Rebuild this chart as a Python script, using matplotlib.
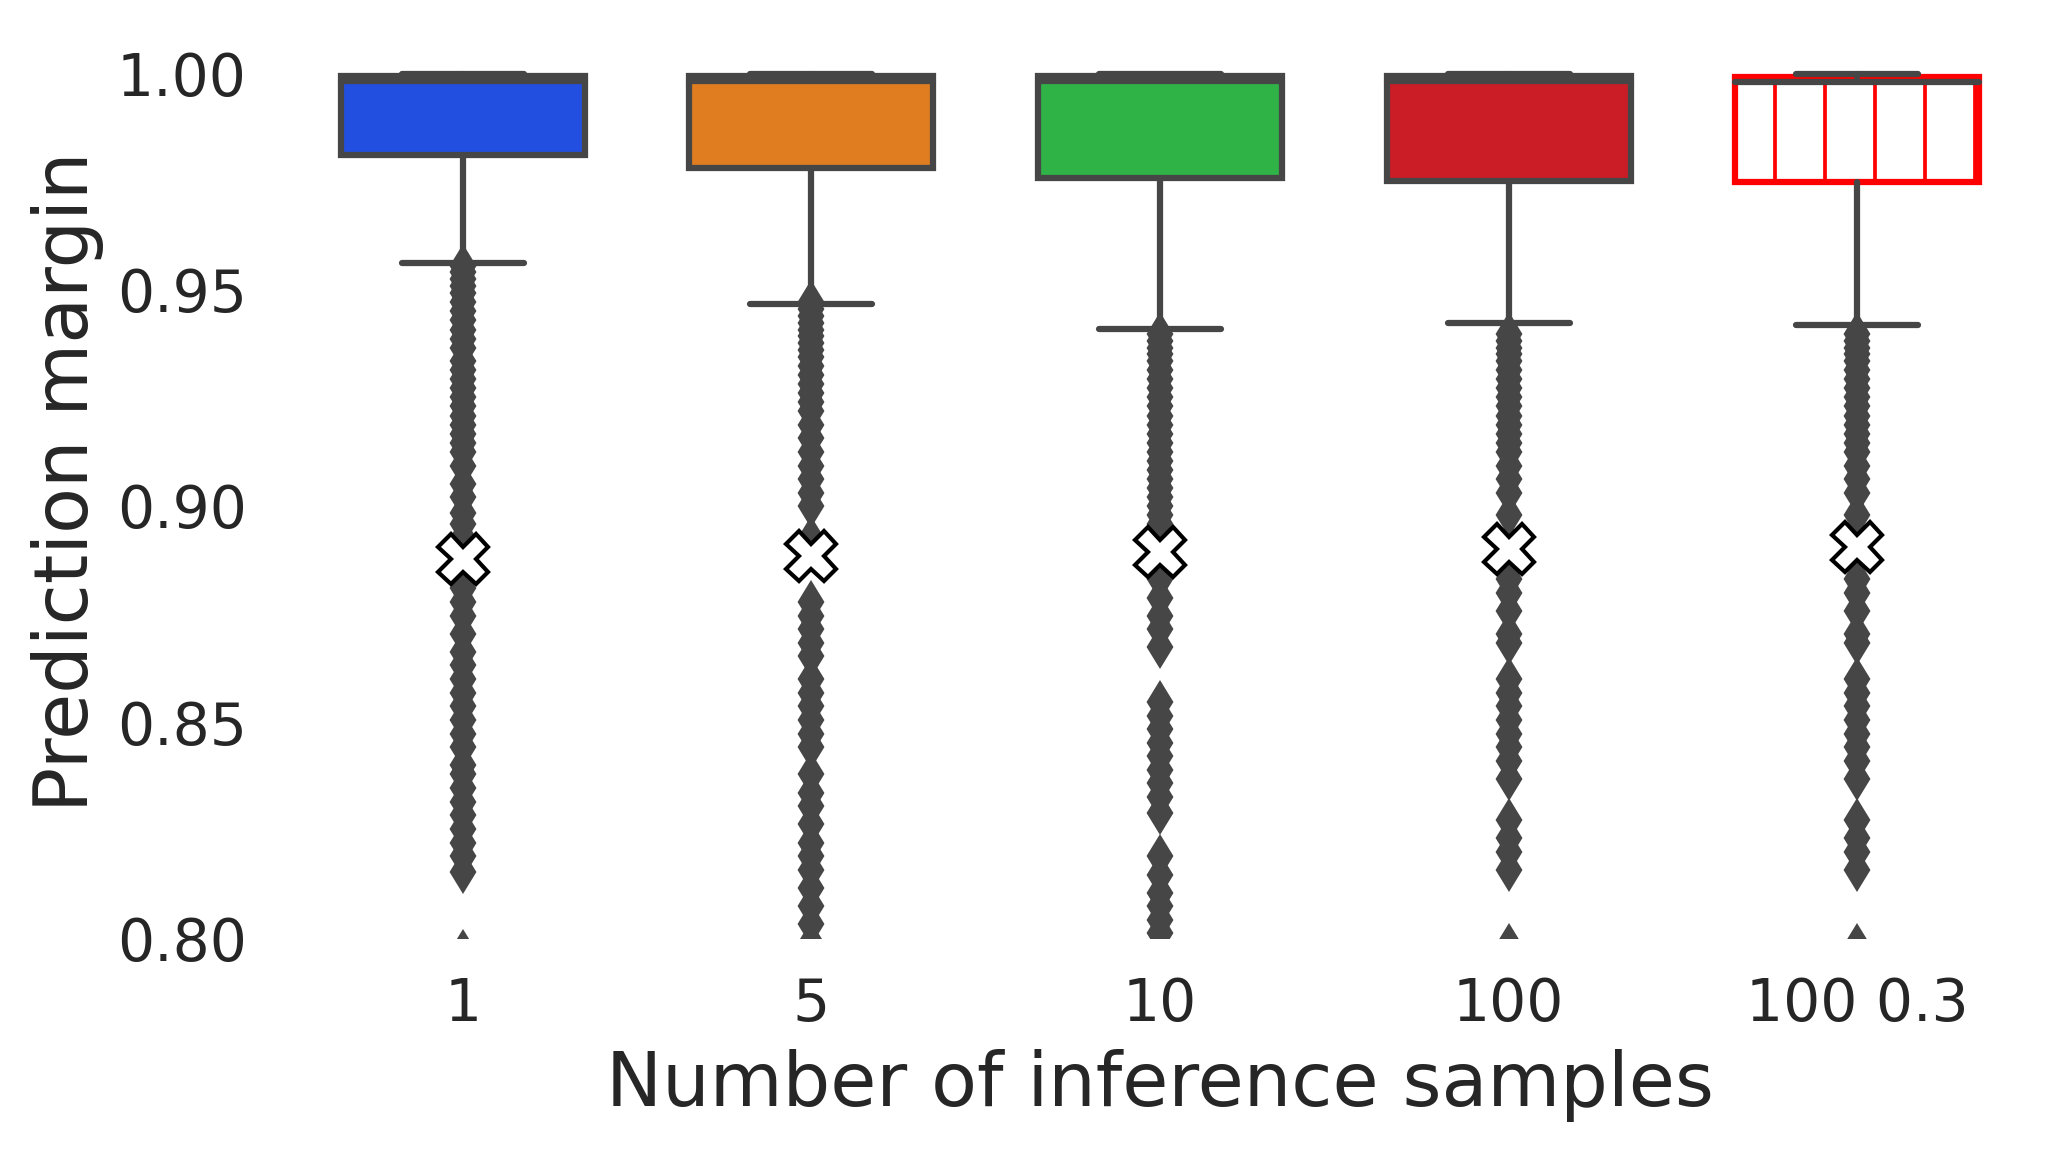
import numpy as np
import matplotlib
matplotlib.use('Agg')
import matplotlib.pyplot as plt
import seaborn as sns

sns.set_style("white")
plt.rcParams['font.family'] = ['DejaVu Sans']
plt.rcParams['hatch.color'] = 'red'
plt.rcParams['hatch.linewidth'] = 0.9

# data
labels = ['1', '5', '10', '100', '100 0.3']
q1 = [0.9812, 0.9782, 0.9758, 0.9752, 0.9750]
q3 = [0.9994, 0.9994, 0.9994, 0.9994, 0.9993]
med = [0.9984, 0.9984, 0.9984, 0.9984, 0.9980]
whislo = [0.9561, 0.9468, 0.9410, 0.9422, 0.9418]
whishi = [1.0, 1.0, 1.0, 1.0, 1.0]
means = [0.8878, 0.8884, 0.8894, 0.8900, 0.8906]

fliers_1 = [0.9555, 0.9540, 0.9524, 0.9508, 0.9492, 0.9471, 0.9450, 0.9429,
            0.9408, 0.9387, 0.9366, 0.9335, 0.9314, 0.9293, 0.9272, 0.9251,
            0.9230, 0.9209, 0.9188, 0.9167, 0.9146, 0.9125, 0.9093, 0.9051,
            0.9020, 0.8983, 0.8957, 0.8925, 0.8894, 0.8851, 0.8809, 0.8778,
            0.8746, 0.8704, 0.8662, 0.8631, 0.8599, 0.8568, 0.8536, 0.8505,
            0.8473, 0.8442, 0.8400, 0.8379, 0.8347, 0.8316, 0.8284, 0.8253,
            0.8221, 0.8189, 0.8153, 0.7970]
fliers_5 = [0.9471, 0.9456, 0.9440, 0.9424, 0.9408, 0.9393, 0.9377, 0.9361,
            0.9345, 0.9324, 0.9303, 0.9282, 0.9261, 0.9240, 0.9219, 0.9188,
            0.9156, 0.9125, 0.9093, 0.9062, 0.9030, 0.8999, 0.8925, 0.8778,
            0.8746, 0.8715, 0.8683, 0.8652, 0.8599, 0.8568, 0.8536, 0.8505,
            0.8473, 0.8442, 0.8379, 0.8337, 0.8305, 0.8263, 0.8221, 0.8189,
            0.8158, 0.8116, 0.8074, 0.8032, 0.7990]
fliers_10 = [0.9398, 0.9382, 0.9366, 0.9351, 0.9335, 0.9314, 0.9293, 0.9272,
             0.9251, 0.9230, 0.9209, 0.9188, 0.9167, 0.9146, 0.9125, 0.9104,
             0.9083, 0.9062, 0.9041, 0.9020, 0.8999, 0.8978, 0.8957, 0.8925,
             0.8830, 0.8788, 0.8746, 0.8715, 0.8673, 0.8547, 0.8515, 0.8484,
             0.8452, 0.8421, 0.8389, 0.8358, 0.8326, 0.8289, 0.8190, 0.8147,
             0.8105, 0.8074, 0.8042, 0.8011]
fliers_100 = [0.9398, 0.9382, 0.9366, 0.9351, 0.9335, 0.9314, 0.9293, 0.9272,
              0.9251, 0.9230, 0.9209, 0.9188, 0.9167, 0.9146, 0.9125, 0.9093,
              0.9062, 0.9030, 0.8978, 0.8914, 0.8830, 0.8799, 0.8757, 0.8704,
              0.8683, 0.8599, 0.8568, 0.8536, 0.8505, 0.8473, 0.8442, 0.8410,
              0.8368, 0.8274, 0.8232, 0.8200, 0.8158, 0.7985]
fliers_100_03 = [0.9398, 0.9382, 0.9366, 0.9351, 0.9335, 0.9314, 0.9293, 0.9272,
                 0.9251, 0.9230, 0.9209, 0.9188, 0.9167, 0.9146, 0.9125, 0.9093,
                 0.9062, 0.9030, 0.8978, 0.8914, 0.8830, 0.8799, 0.8757, 0.8704,
                 0.8683, 0.8599, 0.8568, 0.8536, 0.8505, 0.8473, 0.8442, 0.8410,
                 0.8368, 0.8274, 0.8232, 0.8200, 0.8158, 0.7985]
fliers = [fliers_1, fliers_5, fliers_10, fliers_100, fliers_100_03]

gray = '#464646'
pal = [sns.desaturate(c, 0.75) for c in sns.color_palette('bright')[:4]]

stats = []
for i in range(len(labels)):
    stats.append(dict(label=labels[i], q1=q1[i], q3=q3[i], med=med[i],
                      whislo=whislo[i], whishi=whishi[i], mean=means[i],
                      fliers=fliers[i]))

fig = plt.figure(figsize=(2063 / 300, 1152 / 300), dpi=300)
ax = fig.add_axes([0.1398, 0.1856, 0.845, 0.7918])

lw = 1.5
bp = ax.bxp(stats, positions=np.arange(len(labels)), widths=0.7,
            patch_artist=True, showmeans=True,
            boxprops=dict(edgecolor=gray, linewidth=lw),
            whiskerprops=dict(color=gray, linewidth=lw, solid_capstyle='round'),
            capprops=dict(color=gray, linewidth=lw, solid_capstyle='round'),
            medianprops=dict(color=gray, linewidth=lw, solid_capstyle='round'),
            flierprops=dict(marker='d', markerfacecolor=gray,
                            markeredgecolor=gray, markersize=6.2),
            meanprops=dict(marker='X', markerfacecolor='white',
                           markeredgecolor='black', markersize=12,
                           markeredgewidth=1.0))

for i, box in enumerate(bp['boxes']):
    if i < 4:
        box.set_facecolor(pal[i])
    else:
        box.set_facecolor('white')
        box.set_edgecolor('red')
        box.set_hatch('|')

ax.set_xlim(-0.5, 4.5)
ax.set_ylim(0.80, 1.011)
ax.set_yticks([0.80, 0.85, 0.90, 0.95, 1.00])
ax.set_yticklabels(['0.80', '0.85', '0.90', '0.95', '1.00'])
ax.set_xticks(np.arange(len(labels)))
ax.set_xticklabels(labels)
ax.tick_params(axis='both', length=0, labelsize=14, colors='.15')
ax.tick_params(axis='y', pad=10)
ax.tick_params(axis='x', pad=9)
ax.set_xlabel('Number of inference samples', fontsize=18, color='.15', labelpad=4)
ax.set_ylabel('Prediction margin', fontsize=18, color='.15', labelpad=3)
for s in ax.spines.values():
    s.set_visible(False)

plt.savefig('out.png', dpi=300)
